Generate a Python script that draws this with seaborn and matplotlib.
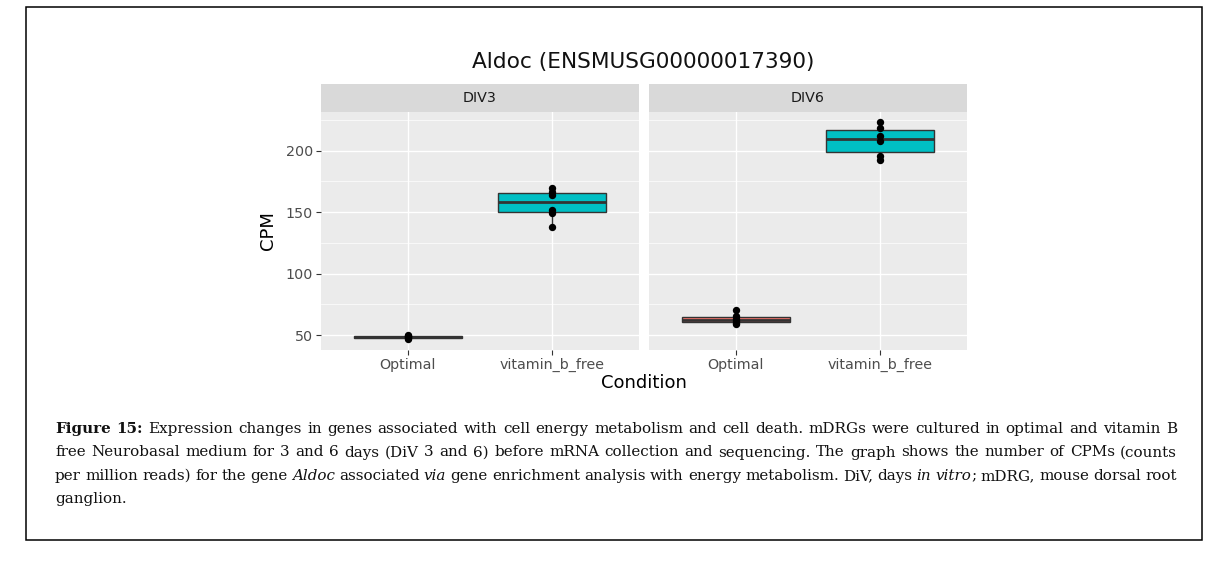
import matplotlib
matplotlib.use("Agg")
import matplotlib.pyplot as plt
import matplotlib.patches as patches
import numpy as np
import pandas as pd
import seaborn as sns

# Datos (CPM por condición y día)
niveles = ["Optimal", "vitamin_b_free"]
paneles = ["DIV3", "DIV6"]
div3_optimal = [46.5, 47.5, 48.3, 49.0, 49.5, 50.2]
div3_vitb = [137.5, 149.0, 151.9, 164.0, 166.0, 169.5]
div6_optimal = [59.0, 60.0, 61.5, 63.0, 65.5, 70.5]
div6_vitb = [192.7, 196.0, 208.0, 211.7, 218.5, 223.0]
yticks = [50, 100, 150, 200]
yminor = [75, 125, 175, 225]

paleta = {"Optimal": "#F8766D", "vitamin_b_free": "#00BFC4"}

filas = []
for dia, opt, vit in [("DIV3", div3_optimal, div3_vitb), ("DIV6", div6_optimal, div6_vitb)]:
    filas += [(dia, "Optimal", v) for v in opt]
    filas += [(dia, "vitamin_b_free", v) for v in vit]
df = pd.DataFrame(filas, columns=["day", "condition", "cpm"])

W, H = 1222, 562
fig = plt.figure(figsize=(W / 100, H / 100), dpi=100)

def fx(px):
    return px / W

def fy(py):
    return 1 - py / H

top, bottom = 111.7, 350
strip_h = 27.7
ejes = []
for i, (dia, x0) in enumerate(zip(paneles, [321, 649])):
    ax = fig.add_axes([fx(x0), fy(bottom), 318 / W, (bottom - top) / H])
    sub = df[df["day"] == dia]
    sns.boxplot(data=sub, x="condition", y="cpm", hue="condition", order=niveles,
                hue_order=niveles, palette=paleta, saturation=1, width=0.75,
                linecolor="#333333", linewidth=1, fliersize=0, showcaps=False,
                medianprops=dict(linewidth=2.0), legend=False, ax=ax)
    sns.stripplot(data=sub, x="condition", y="cpm", order=niveles, color="black",
                  jitter=False, size=5.3, ax=ax, zorder=3)
    ax.set_xlim(-0.6, 1.6)
    ax.set_ylim(37.8, 231.7)
    ax.set_yticks(yticks)
    ax.set_yticks(yminor, minor=True)
    ax.set_facecolor("#EBEBEB")
    ax.set_axisbelow(True)
    ax.grid(which="major", color="white", linewidth=1.0)
    ax.grid(which="minor", axis="y", color="white", linewidth=0.5)
    for s in ax.spines.values():
        s.set_visible(False)
    ax.tick_params(which="major", length=3.4, width=0.8, color="#333333",
                   labelcolor="#4D4D4D", labelsize=10.3, pad=2.5)
    ax.tick_params(which="minor", length=0)
    ax.set_xlabel("")
    ax.set_ylabel("")
    if i == 1:
        ax.tick_params(axis="y", left=False, labelleft=False)
    # tira del facet
    hh = strip_h / (bottom - top)
    ax.add_patch(patches.Rectangle((0, 1), 1, hh, transform=ax.transAxes,
                                   clip_on=False, facecolor="#D9D9D9", edgecolor="none"))
    ax.text(0.5, 1 + hh / 2, dia, transform=ax.transAxes, ha="center", va="center",
            color="#1A1A1A", fontsize=10.3)
    ejes.append(ax)

fig.text(fx(643.5), fy(62), "Aldoc (ENSMUSG00000017390)", ha="center", va="center",
         fontsize=15.6, color="#111111")
fig.text(fx(644), fy(383.3), "Condition", ha="center", va="center", fontsize=13)
fig.text(fx(268), fy(231), "CPM", ha="center", va="center", rotation=90, fontsize=13)

# Pie de figura (texto justificado, # = negrita, _ = cursiva)
leyenda = [
    "#Figure 15:# Expression changes in genes associated with cell energy metabolism and cell death. mDRGs were cultured in optimal and vitamin B",
    "free Neurobasal medium for 3 and 6 days (DiV 3 and 6) before mRNA collection and sequencing. The graph shows the number of CPMs (counts",
    "per million reads) for the gene _Aldoc_ associated _via_ gene enrichment analysis with energy metabolism. DiV, days _in vitro_; mDRG, mouse dorsal root",
    "ganglion.",
]
renderer = fig.canvas.get_renderer()
x_izq, x_der = 55, 1177
bases = [433, 456.5, 480, 503.5]
tam = 10.9
estado = {"bold": False, "italic": False}

def piezas_de(palabra):
    piezas, buf = [], ""
    for c in palabra:
        if c in "#_":
            if buf:
                piezas.append((buf, estado["bold"], estado["italic"]))
                buf = ""
            if c == "#":
                estado["bold"] = not estado["bold"]
            else:
                estado["italic"] = not estado["italic"]
        else:
            buf += c
    if buf:
        piezas.append((buf, estado["bold"], estado["italic"]))
    return piezas

def texto(x, y, s, b, it):
    return fig.text(fx(x), fy(y), s, ha="left", va="baseline", fontsize=tam,
                    family="DejaVu Serif", color="#111111",
                    fontweight="bold" if b else "normal",
                    fontstyle="italic" if it else "normal")

for n, (linea, yb) in enumerate(zip(leyenda, bases)):
    palabras = [piezas_de(p) for p in linea.split(" ")]
    # medir anchos
    anchos = []
    for piezas in palabras:
        ws = []
        for s, b, it in piezas:
            t = texto(0, yb, s, b, it)
            ws.append(t.get_window_extent(renderer=renderer).width)
            t.remove()
        anchos.append(ws)
    total = sum(sum(ws) for ws in anchos)
    if n < len(leyenda) - 1 and len(palabras) > 1:
        hueco = (x_der - x_izq - total) / (len(palabras) - 1)
    else:
        hueco = 4.0
    x = x_izq
    for piezas, ws in zip(palabras, anchos):
        for (s, b, it), w in zip(piezas, ws):
            texto(x, yb, s, b, it)
            x += w
        x += hueco

fig.add_artist(patches.Rectangle((fx(26), fy(540)), (1202 - 26) / W, (540 - 7) / H,
                                 transform=fig.transFigure, fill=False,
                                 edgecolor="black", linewidth=1.1))

fig.savefig("out.png", dpi=100, facecolor="white")
